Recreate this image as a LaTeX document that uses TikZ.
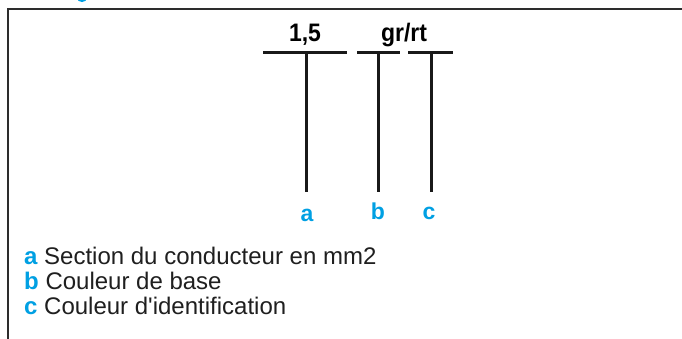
\documentclass[tikz,border=0pt]{standalone}
\usepackage{fontspec}
\setmainfont{Liberation Sans}
\definecolor{cyanb}{RGB}{0,160,227}
\definecolor{framegray}{RGB}{45,45,45}
\begin{document}
\begin{tikzpicture}[x=1pt,y=-1pt,
  frameline/.style={draw=framegray,line width=2.2pt},
  wire/.style={draw=black!90,line width=3pt},
  toplabel/.style={anchor=base,font=\fontsize{23}{26}\selectfont\bfseries,inner sep=0pt,yscale=1.1},
  letterlabel/.style={anchor=base,text=cyanb,font=\fontsize{23}{26}\selectfont\bfseries,inner sep=0pt},
  legend/.style={anchor=base west,font=\fontsize{24}{28}\selectfont,inner sep=0pt,text=black!88}]
\useasboundingbox (0,0) rectangle (682,338);
\fill[white] (0,0) rectangle (682,338);
% cropped title fragment
\begin{scope}
\clip (0,0) rectangle (682,338);
\fill[cyanb] (82,-2) ellipse (5pt and 4pt);
\end{scope}
% frame
\coordinate (ftl) at (8,9);
\coordinate (ftr) at (683,9);
\coordinate (fbl) at (8,339);
\draw[frameline] (ftr) -- (ftl) -- (fbl);
% T shapes
\coordinate (a1) at (263,52);
\coordinate (a2) at (347,52);
\coordinate (at) at (306,52);
\coordinate (ab) at (306,192);
\coordinate (b1) at (357,52);
\coordinate (b2) at (400,52);
\coordinate (bt) at (378,52);
\coordinate (bb) at (378,192);
\coordinate (c1) at (408,52);
\coordinate (c2) at (453,52);
\coordinate (ct) at (431,52);
\coordinate (cb) at (431,192);
\draw[wire] (a1) -- (a2);
\draw[wire] (at) -- (ab);
\draw[wire] (b1) -- (b2);
\draw[wire] (bt) -- (bb);
\draw[wire] (c1) -- (c2);
\draw[wire] (ct) -- (cb);
% top labels
\node[toplabel] (sec) at (305,41) {1,5};
\node[toplabel] (col) at (404,41) {gr/rt};
% letters
\node[letterlabel] (la) at (307,221) {a};
\node[letterlabel] (lb) at (378,219) {b};
\node[letterlabel] (lc) at (429,219) {c};
% legend
\node[legend] (l1) at (24,264) {\textcolor{cyanb}{\bfseries a} Section du conducteur en mm2};
\node[legend] (l2) at (24,289) {\textcolor{cyanb}{\bfseries b} Couleur de base};
\node[legend] (l3) at (24,314) {\textcolor{cyanb}{\bfseries c} Couleur d\textquotesingle identification};
\end{tikzpicture}
\end{document}
